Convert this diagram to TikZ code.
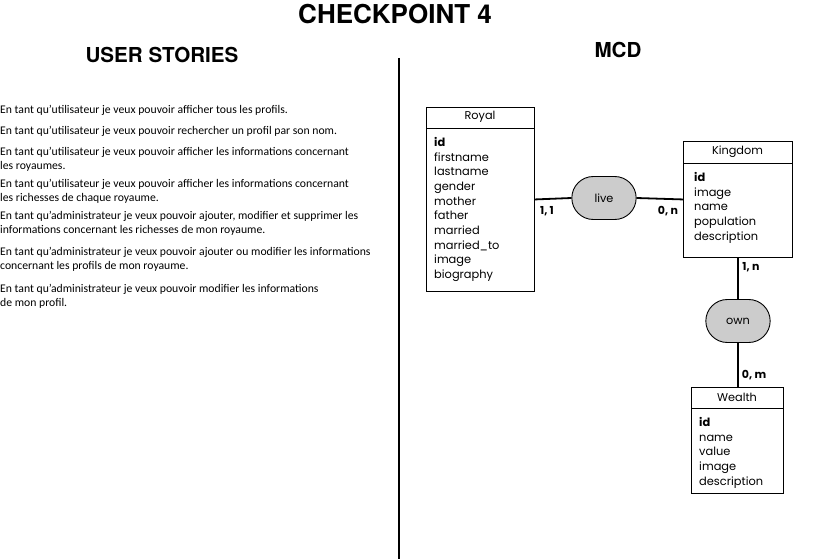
\documentclass[tikz,border=0pt]{standalone}
\usepackage{fontspec}
\setmainfont{Lato}
\newfontfamily\titlefont{TeX Gyre Heros}
\newfontfamily\storyfont{Carlito}
\newfontfamily\erfont[Ligatures=NoCommon]{Poppins}
\usetikzlibrary{shapes.misc}
\begin{document}
\begin{tikzpicture}[x=1pt,y=-1pt,
  entity/.style={draw, line width=0.9pt, minimum width=#1, anchor=north west, inner sep=0pt},
  ehead/.style={font=\erfont\fontsize{11.3}{14}\selectfont},
  eattr/.style={font=\erfont\fontsize{11.4}{14.7}\selectfont, align=left, anchor=north west, inner sep=0pt},
  assoc/.style={rounded rectangle, draw, line width=0.9pt, fill=gray!40, minimum width=71, minimum height=43, font=\erfont\fontsize{11.3}{14}\selectfont},
  link/.style={line width=1.8pt},
  card/.style={font=\erfont\bfseries\fontsize{11}{12}\selectfont, inner sep=0pt},
  story/.style={font=\storyfont\fontsize{11.7}{14}\selectfont, align=left, anchor=west, inner sep=0pt},
  heading/.style={font=\titlefont\bfseries\fontsize{20.6}{24}\selectfont}]
\useasboundingbox (0,0) rectangle (820,559);
\node[font=\titlefont\bfseries\fontsize{26}{30}\selectfont] (title) at (395,14) {CHECKPOINT 4};
\node[heading] (us) at (162,55) {USER STORIES};
\node[heading] (mcd) at (618,50) {MCD};
\coordinate (sepTop) at (399,58);
\coordinate (sepBot) at (399,559);
\draw[line width=1.5pt] (sepTop) -- (sepBot);

% stories
\node[story] (s1) at (0,110) {En tant qu’utilisateur je veux pouvoir afficher tous les profils.};
\node[story] (s2) at (0,131) {En tant qu’utilisateur je veux pouvoir rechercher un profil par son nom.};
\node[story] (s3) at (0,159) {En tant qu’utilisateur je veux pouvoir afficher les informations concernant\\les royaumes.};
\node[story] (s4) at (0,191) {En tant qu’utilisateur je veux pouvoir afficher les informations concernant\\les richesses de chaque royaume.};
\node[story] (s5) at (0,223) {En tant qu’administrateur je veux pouvoir ajouter, modifier et supprimer les\\informations concernant les richesses de mon royaume.};
\node[story] (s6) at (0,259) {En tant qu’administrateur je veux pouvoir ajouter ou modifier les informations\\concernant les profils de mon royaume.};
\node[story] (s7) at (0,296) {En tant qu’administrateur je veux pouvoir modifier les informations\\de mon profil.};

% Royal
\node[entity=108, minimum height=184] (royal) at (426,107) {};
\draw[line width=0.9pt] ([yshift=-21]royal.north west) -- ([yshift=-21]royal.north east);
\node[ehead] (royalT) at (480,117) {Royal};
\node[eattr] (royalA) at (434,137) {\textbf{id}\\firstname\\lastname\\gender\\mother\\father\\married\\married\_to\\image\\biography};

% Kingdom
\node[entity=109, minimum height=116] (kingdom) at (683,141) {};
\draw[line width=0.9pt] ([yshift=-22]kingdom.north west) -- ([yshift=-22]kingdom.north east);
\node[ehead] (kingdomT) at (737.5,152) {Kingdom};
\node[eattr] (kingdomA) at (694,172) {\textbf{id}\\image\\name\\population\\description};

% Wealth
\node[entity=92, minimum height=106] (wealth) at (691,387) {};
\draw[line width=0.9pt] ([yshift=-21]wealth.north west) -- ([yshift=-21]wealth.north east);
\node[ehead] (wealthT) at (737,397) {Wealth};
\node[eattr] (wealthA) at (699,417) {\textbf{id}\\name\\value\\image\\description};

% associations
\node[assoc] (live) at (604,198) {live};
\node[assoc] (own) at (738,321) {own};

\draw[link] (royal.east) -- (live.west);
\draw[link] (live.east) -- (kingdom.west);
\draw[link] (kingdom.south -| own) -- (own.north);
\draw[link] (own.south) -- (wealth.north -| own);

\node[card] (c1) at (547,211) {1, 1};
\node[card] (c2) at (668,211) {0, n};
\node[card] (c3) at (751,267) {1, n};
\node[card] (c4) at (754,375) {0, m};
\end{tikzpicture}
\end{document}
